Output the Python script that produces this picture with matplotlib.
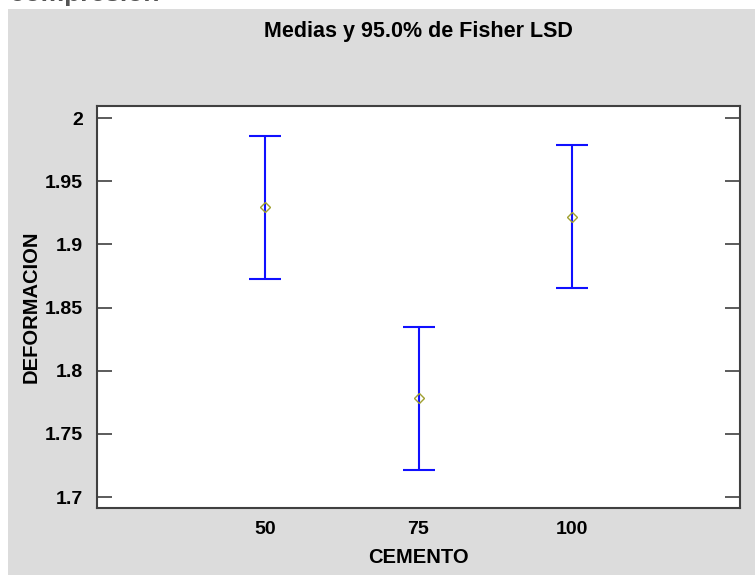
import matplotlib
matplotlib.use("Agg")
import matplotlib.pyplot as plt
from matplotlib.patches import Rectangle

categories = ["50", "75", "100"]
means = [1.9296, 1.7785, 1.9217]
lower = [1.8726, 1.7215, 1.8655]
upper = [1.9858, 1.8347, 1.9786]
yticks = [1.7, 1.75, 1.8, 1.85, 1.9, 1.95, 2.0]
ytick_labels = ["1.7", "1.75", "1.8", "1.85", "1.9", "1.95", "2"]

plt.rcParams['font.family'] = ['Liberation Sans', 'DejaVu Sans']

W, H = 755, 575
fig = plt.figure(figsize=(W / 100, H / 100), dpi=100)
fig.patch.set_facecolor("white")
# gray panel
fig.patches.append(Rectangle((8 / W, 0), 1 - 8 / W, 1 - 9 / H, transform=fig.transFigure,
                             facecolor="#dcdcdc", edgecolor="none", zorder=-10))
# cropped heading text at top
fig.text(10 / W, 1 + 6 / H, "compresión", fontsize=19, color="#555555", fontweight="bold",
         ha="left", va="center")

ax = fig.add_axes([97 / W, 1 - 508 / H, (740 - 97) / W, (508 - 106) / H])
ax.set_facecolor("white")

x = list(range(len(categories)))
yerr_low = [m - l for m, l in zip(means, lower)]
yerr_up = [u - m for m, u in zip(means, upper)]
ax.errorbar(x, means, yerr=[yerr_low, yerr_up], fmt="none", ecolor="#1010ff",
            elinewidth=1.5, capsize=11.2, capthick=1.5, zorder=2)
ax.plot(x, means, linestyle="none", marker="D", markersize=5, markerfacecolor="none",
        markeredgecolor="#a0a030", markeredgewidth=1.0, zorder=3)

ax.set_xlim(-1.1, 3.1)
ax.set_ylim(1.6913, 2.0095)
ax.set_xticks(x)
ax.set_xticklabels(categories)
ax.set_yticks(yticks)
ax.set_yticklabels(ytick_labels)

ax.tick_params(axis="y", direction="in", length=11, width=1.2, color="#404040",
               right=True, labelsize=14, pad=10)
ax.tick_params(axis="x", length=0, labelsize=14, pad=9.5)
for lab in ax.get_xticklabels() + ax.get_yticklabels():
    lab.set_fontweight("bold")

for s in ax.spines.values():
    s.set_color("#404040")
    s.set_linewidth(1.5)

ax.set_xlabel("CEMENTO", fontsize=14.5, fontweight="bold", labelpad=7)
ax.set_ylabel("DEFORMACION", fontsize=14.5, fontweight="bold", labelpad=3)
fig.text(418 / W, 1 - 32 / H, "Medias y 95.0% de Fisher LSD", fontsize=15.5,
         fontweight="bold", ha="center", va="center")

fig.savefig("out.png", dpi=100)
